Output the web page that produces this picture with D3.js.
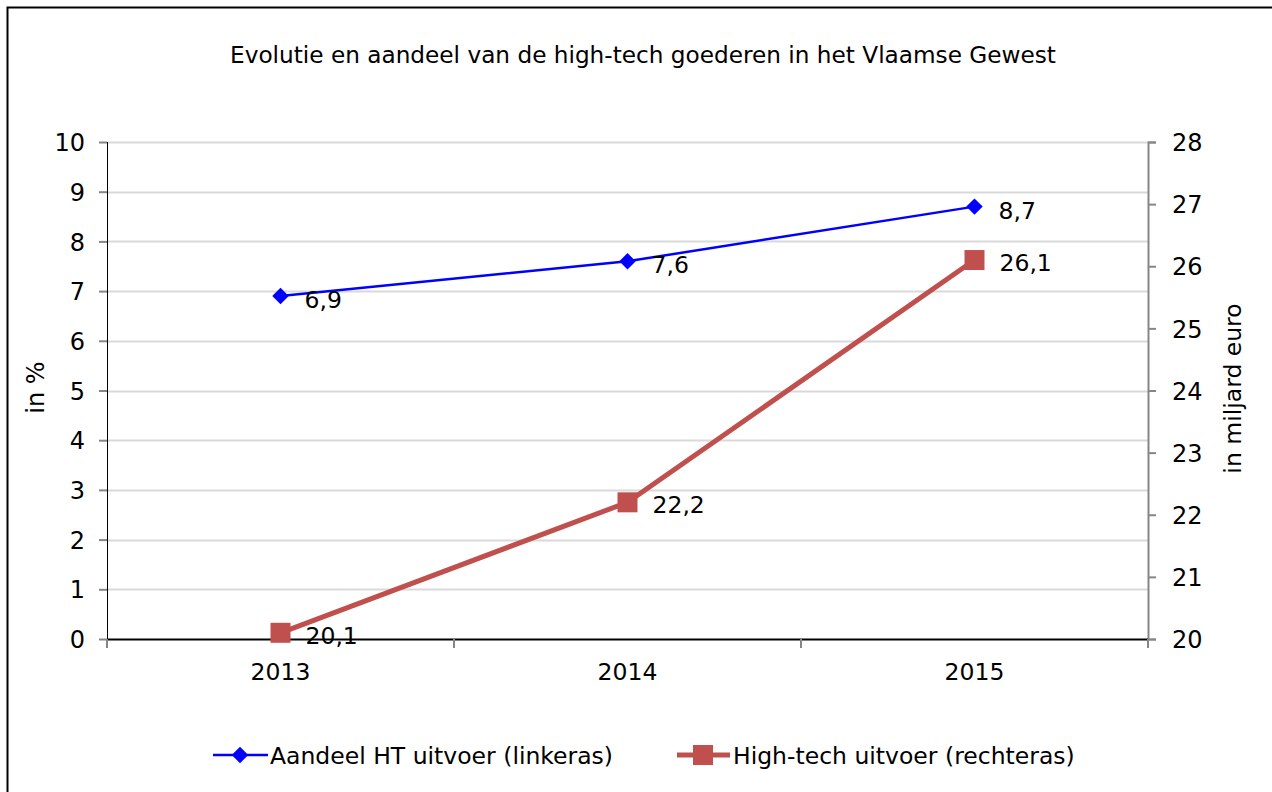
<!DOCTYPE html>
<html>
<head>
<meta charset="utf-8">
<script src="https://cdn.jsdelivr.net/npm/d3@7"></script>
<style>
  body { margin: 0; background: #fff; }
  text { font-family: "DejaVu Sans", Verdana, sans-serif; fill: #000; }
</style>
</head>
<body>
<div id="chart-area"></div>
<script>
// Data ---------------------------------------------------
const years = ["2013", "2014", "2015"]
const shareHT = [6.9, 7.6, 8.7]        // linkeras, in %
const exportHT = [20.1, 22.2, 26.1]    // rechteras, in miljard euro
const leftTicks = [0, 1, 2, 3, 4, 5, 6, 7, 8, 9, 10]
const rightTicks = [20, 21, 22, 23, 24, 25, 26, 27, 28]
const seriesNames = ["Aandeel HT uitvoer (linkeras)", "High-tech uitvoer (rechteras)"]

// Canvas setup -------------------------------------------
const W = 1272, H = 792
const MARGIN = {LEFT: 107, RIGHT: 124, TOP: 142, BOTTOM: 153}
const WIDTH = W - MARGIN.LEFT - MARGIN.RIGHT
const HEIGHT = H - MARGIN.TOP - MARGIN.BOTTOM

const BLUE = "#0000ff"
const RED = "#c0504d"
const FS = "23.5px"
const fmt = v => String(v).replace(".", ",")

const svg = d3.select("#chart-area").append("svg")
    .attr("width", W)
    .attr("height", H)

// outer frame (runs off the right and bottom edge)
svg.append("rect")
    .attr("x", 7.5).attr("y", 7.5)
    .attr("width", W + 20).attr("height", H + 20)
    .attr("fill", "none")
    .attr("stroke", "#000")
    .attr("stroke-width", 2)

svg.append("text")
    .attr("x", 643).attr("y", 63)
    .attr("text-anchor", "middle")
    .attr("font-size", "23.2px")
    .text("Evolutie en aandeel van de high-tech goederen in het Vlaamse Gewest")

const g = svg.append("g")
    .attr("transform", `translate(${MARGIN.LEFT}, ${MARGIN.TOP})`)

// Scales -------------------------------------------------
const xScale = d3.scaleBand()
    .domain(years)
    .range([0, WIDTH])

const yLeft = d3.scaleLinear()
    .domain([0, 10])
    .range([HEIGHT, 0])

const yRight = d3.scaleLinear()
    .domain([20, 28])
    .range([HEIGHT, 0])

const cx = d => xScale(d) + xScale.bandwidth() / 2

// Gridlines ----------------------------------------------
g.append("g")
    .selectAll("line")
    .data(leftTicks.slice(1))
    .join("line")
    .attr("x1", 0).attr("x2", WIDTH)
    .attr("y1", d => Math.round(yLeft(d)) + 0.5)
    .attr("y2", d => Math.round(yLeft(d)) + 0.5)
    .attr("stroke", "#d9d9d9")
    .attr("stroke-width", 2)

// Axes ---------------------------------------------------
const leftAxis = g.append("g")
    .call(d3.axisLeft(yLeft).tickValues(leftTicks).tickSize(8).tickPadding(14).tickFormat(d => d))
leftAxis.select(".domain").attr("stroke", "#000").attr("d", `M0.5,${HEIGHT + 9}V0`)
leftAxis.selectAll(".tick line").attr("stroke", "#868686").attr("stroke-width", 2)
leftAxis.selectAll(".tick text").attr("font-size", "24px").attr("font-family", "DejaVu Sans").attr("dy", "0.36em")

const rightAxis = g.append("g")
    .attr("transform", `translate(${WIDTH},0)`)
    .call(d3.axisRight(yRight).tickValues(rightTicks).tickSize(8).tickPadding(16))
rightAxis.select(".domain").attr("stroke", "#868686").attr("stroke-width", 2)
rightAxis.selectAll(".tick line").attr("stroke", "#868686").attr("stroke-width", 2)
rightAxis.selectAll(".tick text").attr("font-size", "24px").attr("font-family", "DejaVu Sans").attr("dy", "0.36em")

const xAxis = g.append("g")
    .attr("transform", `translate(0,${HEIGHT})`)
    .call(d3.axisBottom(xScale).tickSize(0).tickPadding(24))
xAxis.select(".domain").attr("stroke", "#000").attr("stroke-width", 2).attr("d", `M0,0.5H${WIDTH}`)
xAxis.selectAll(".tick text").attr("font-size", FS).attr("font-family", "DejaVu Sans")

// category separators below the x axis
g.append("g")
    .selectAll("line")
    .data(years.map(d => xScale(d)).concat([WIDTH]))
    .join("line")
    .attr("x1", d => d).attr("x2", d => d)
    .attr("y1", HEIGHT).attr("y2", HEIGHT + 9)
    .attr("stroke", "#868686")
    .attr("stroke-width", 2)

// Axis titles --------------------------------------------
svg.append("text")
    .attr("transform", `translate(44, ${MARGIN.TOP + HEIGHT / 2 - 3}) rotate(-90)`)
    .attr("text-anchor", "middle")
    .attr("font-family", "Open Sans")
    .attr("font-size", "24px")
    .text("in %")

svg.append("text")
    .attr("transform", `translate(1241, ${MARGIN.TOP + HEIGHT / 2 - 2}) rotate(-90)`)
    .attr("text-anchor", "middle")
    .attr("font-family", "Open Sans")
    .attr("font-size", "23.5px")
    .text("in miljard euro")

// Lines --------------------------------------------------
const lineLeft = d3.line()
    .x((d, i) => cx(years[i]))
    .y(d => yLeft(d))

const lineRight = d3.line()
    .x((d, i) => cx(years[i]))
    .y(d => yRight(d))

g.append("path")
    .attr("d", lineRight(exportHT))
    .attr("fill", "none")
    .attr("stroke", RED)
    .attr("stroke-width", 5)

g.append("path")
    .attr("d", lineLeft(shareHT))
    .attr("fill", "none")
    .attr("stroke", BLUE)
    .attr("stroke-width", 2.5)

const diamond = d3.symbol().type(d3.symbolSquare).size(135)

g.selectAll(".pt-left")
    .data(shareHT)
    .join("path")
    .attr("class", "pt-left")
    .attr("d", diamond)
    .attr("transform", (d, i) => `translate(${cx(years[i])},${yLeft(d)}) rotate(45)`)
    .attr("fill", BLUE)

g.selectAll(".pt-right")
    .data(exportHT)
    .join("rect")
    .attr("class", "pt-right")
    .attr("x", (d, i) => cx(years[i]) - 10)
    .attr("y", d => yRight(d) - 10)
    .attr("width", 20).attr("height", 20)
    .attr("fill", RED)

// Data labels --------------------------------------------
g.selectAll(".lbl-left")
    .data(shareHT)
    .join("text")
    .attr("class", "lbl-left")
    .attr("x", (d, i) => cx(years[i]) + 24)
    .attr("y", d => yLeft(d) + 12)
    .attr("font-size", FS)
    .text(fmt)

g.selectAll(".lbl-right")
    .data(exportHT)
    .join("text")
    .attr("class", "lbl-right")
    .attr("x", (d, i) => cx(years[i]) + 25)
    .attr("y", d => yRight(d) + 11)
    .attr("font-size", FS)
    .text(fmt)

// Legend -------------------------------------------------
const legend = svg.append("g")
    .attr("transform", "translate(0, 755)")

legend.append("line")
    .attr("x1", 213).attr("x2", 268)
    .attr("stroke", BLUE).attr("stroke-width", 2.5)
legend.append("path")
    .attr("d", diamond)
    .attr("transform", "translate(240,0) rotate(45)")
    .attr("fill", BLUE)
legend.append("text")
    .attr("x", 270).attr("y", 9)
    .attr("font-size", FS)
    .text(seriesNames[0])

legend.append("line")
    .attr("x1", 677).attr("x2", 730)
    .attr("stroke", RED).attr("stroke-width", 5)
legend.append("rect")
    .attr("x", 693).attr("y", -10)
    .attr("width", 20).attr("height", 20)
    .attr("fill", RED)
legend.append("text")
    .attr("x", 733).attr("y", 9)
    .attr("font-size", FS)
    .text(seriesNames[1])
</script>
</body>
</html>
